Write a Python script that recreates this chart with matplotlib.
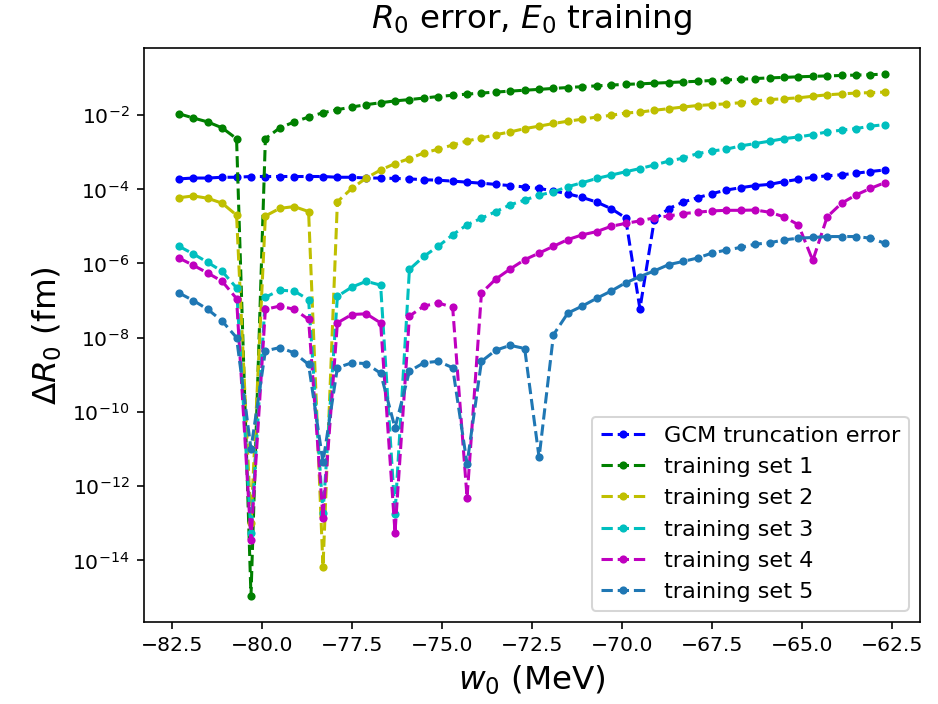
import numpy as np
import matplotlib.pyplot as plt

# w0 grid (MeV)
w0 = np.linspace(-82.3, -62.7, 50)

gcm_err = [1.9e-4, 2.0e-4, 2.0e-4, 2.1e-4, 2.1e-4, 2.2e-4, 2.2e-4, 2.2e-4, 2.2e-4, 2.2e-4,
           2.2e-4, 2.1e-4, 2.1e-4, 2.0e-4, 2.0e-4, 1.95e-4, 1.9e-4, 1.8e-4, 1.75e-4, 1.65e-4,
           1.55e-4, 1.45e-4, 1.35e-4, 1.25e-4, 1.15e-4, 1.05e-4, 9.0e-5, 7.5e-5, 6.0e-5, 4.5e-5,
           3.0e-5, 1.7e-5, 6.0e-8, 1.5e-5, 3.0e-5, 4.5e-5, 5.9e-5, 7.6e-5, 9.5e-5, 1.1e-4,
           1.25e-4, 1.35e-4, 1.6e-4, 1.85e-4, 2.1e-4, 2.3e-4, 2.45e-4, 2.7e-4, 3.0e-4, 3.3e-4]

set1 = [1.08e-2, 8.3e-3, 6.5e-3, 4.5e-3, 2.3e-3, 1.1e-15, 2.3e-3, 4.5e-3, 6.5e-3, 8.8e-3,
        1.15e-2, 1.39e-2, 1.64e-2, 1.9e-2, 2.14e-2, 2.4e-2, 2.6e-2, 2.86e-2, 3.15e-2, 3.4e-2,
        3.65e-2, 3.9e-2, 4.15e-2, 4.4e-2, 4.65e-2, 4.9e-2, 5.2e-2, 5.5e-2, 5.8e-2, 6.1e-2,
        6.4e-2, 6.7e-2, 6.9e-2, 7.2e-2, 7.5e-2, 7.8e-2, 8.1e-2, 8.5e-2, 8.8e-2, 9.2e-2,
        9.6e-2, 1.0e-1, 1.03e-1, 1.07e-1, 1.1e-1, 1.13e-1, 1.16e-1, 1.19e-1, 1.22e-1, 1.26e-1]

set2 = [5.9e-5, 6.6e-5, 5.7e-5, 4.2e-5, 2.0e-5, 1.0e-13, 1.9e-5, 3.05e-5, 3.4e-5, 2.5e-5,
        6.5e-15, 4.6e-5, 1.05e-4, 2.0e-4, 3.3e-4, 4.9e-4, 6.7e-4, 9.5e-4, 1.2e-3, 1.55e-3,
        2.0e-3, 2.4e-3, 2.95e-3, 3.5e-3, 4.3e-3, 5.0e-3, 5.9e-3, 6.8e-3, 7.7e-3, 8.8e-3,
        9.8e-3, 1.13e-2, 1.2e-2, 1.34e-2, 1.48e-2, 1.64e-2, 1.8e-2, 1.9e-2, 2.0e-2, 2.14e-2,
        2.4e-2, 2.6e-2, 2.75e-2, 2.9e-2, 3.2e-2, 3.5e-2, 3.7e-2, 3.9e-2, 4.0e-2, 4.15e-2]

set3 = [2.9e-6, 1.8e-6, 1.07e-6, 6.1e-7, 2.2e-7, 5.4e-14, 1.23e-7, 1.9e-7, 1.8e-7, 1.06e-7,
        1.9e-13, 1.3e-7, 2.3e-7, 3.3e-7, 2.6e-7, 1.8e-13, 6.9e-7, 1.55e-6, 2.9e-6, 5.9e-6,
        1.1e-5, 1.65e-5, 2.5e-5, 3.8e-5, 5.1e-5, 6.9e-5, 8.5e-5, 1.17e-4, 1.5e-4, 1.95e-4,
        2.4e-4, 2.95e-4, 3.6e-4, 4.5e-4, 5.7e-4, 6.9e-4, 9.1e-4, 1.07e-3, 1.2e-3, 1.47e-3,
        1.7e-3, 1.97e-3, 2.3e-3, 2.56e-3, 2.95e-3, 3.5e-3, 3.9e-3, 4.3e-3, 5.0e-3, 5.5e-3]

set4 = [1.4e-6, 8.9e-7, 5.5e-7, 3.3e-7, 1.13e-7, 3.5e-14, 5.8e-8, 7.1e-8, 5.8e-8, 3.1e-8,
        1.4e-13, 2.5e-8, 4.2e-8, 4.4e-8, 2.5e-8, 5.6e-14, 3.8e-8, 7.1e-8, 8.6e-8, 6.6e-8,
        4.9e-13, 1.6e-7, 3.8e-7, 7.1e-7, 1.26e-6, 1.9e-6, 2.9e-6, 4.4e-6, 5.9e-6, 7.2e-6,
        1.0e-5, 1.2e-5, 1.4e-5, 1.7e-5, 1.9e-5, 2.2e-5, 2.4e-5, 2.6e-5, 2.7e-5, 2.7e-5,
        2.75e-5, 2.4e-5, 1.8e-5, 1.1e-5, 1.2e-6, 1.8e-5, 4.2e-5, 7.0e-5, 1.05e-4, 1.5e-4]

set5 = [1.6e-7, 1.0e-7, 5.8e-8, 2.8e-8, 1.0e-8, 1.0e-11, 4.4e-9, 5.4e-9, 3.9e-9, 1.9e-9,
        4.4e-12, 1.55e-9, 2.1e-9, 2.0e-9, 1.1e-9, 3.7e-11, 1.25e-9, 2.1e-9, 2.3e-9, 1.55e-9,
        4.0e-12, 2.3e-9, 4.6e-9, 6.2e-9, 5.1e-9, 5.9e-12, 1.2e-8, 4.6e-8, 7.1e-8, 1.15e-7,
        1.8e-7, 3.0e-7, 4.4e-7, 6.3e-7, 9.3e-7, 1.13e-6, 1.4e-6, 1.9e-6, 2.3e-6, 2.7e-6,
        3.3e-6, 3.6e-6, 4.3e-6, 4.8e-6, 5.0e-6, 5.3e-6, 5.3e-6, 5.3e-6, 4.8e-6, 3.5e-6]

series = [gcm_err, set1, set2, set3, set4, set5]
labels = ['GCM truncation error', 'training set 1', 'training set 2',
          'training set 3', 'training set 4', 'training set 5']
colors = ['b', 'g', 'y', 'c', 'm', 'tab:blue']

fig = plt.figure(figsize=(6.4, 4.8), dpi=146.7)
ax = fig.add_axes([0.153, 0.1165, 0.827, 0.815])

for vals, lab, col in zip(series, labels, colors):
    ax.plot(w0, vals, '.--', color=col, label=lab)

ax.set_yscale('log')
ax.set_yticks([1e-14, 1e-12, 1e-10, 1e-8, 1e-6, 1e-4, 1e-2])
ax.minorticks_off()
ax.set_xticks(np.arange(-82.5, -62.4, 2.5))

ax.set_xlabel('$w_0$ (MeV)', fontsize=16)
ax.set_ylabel(r'$\Delta R_0$ (fm)', fontsize=16)
ax.set_title('$R_0$ error, $E_0$ training', fontsize=16, pad=10)
ax.legend(loc='lower right', fontsize=11)

plt.savefig('out.png', dpi=146.7)
